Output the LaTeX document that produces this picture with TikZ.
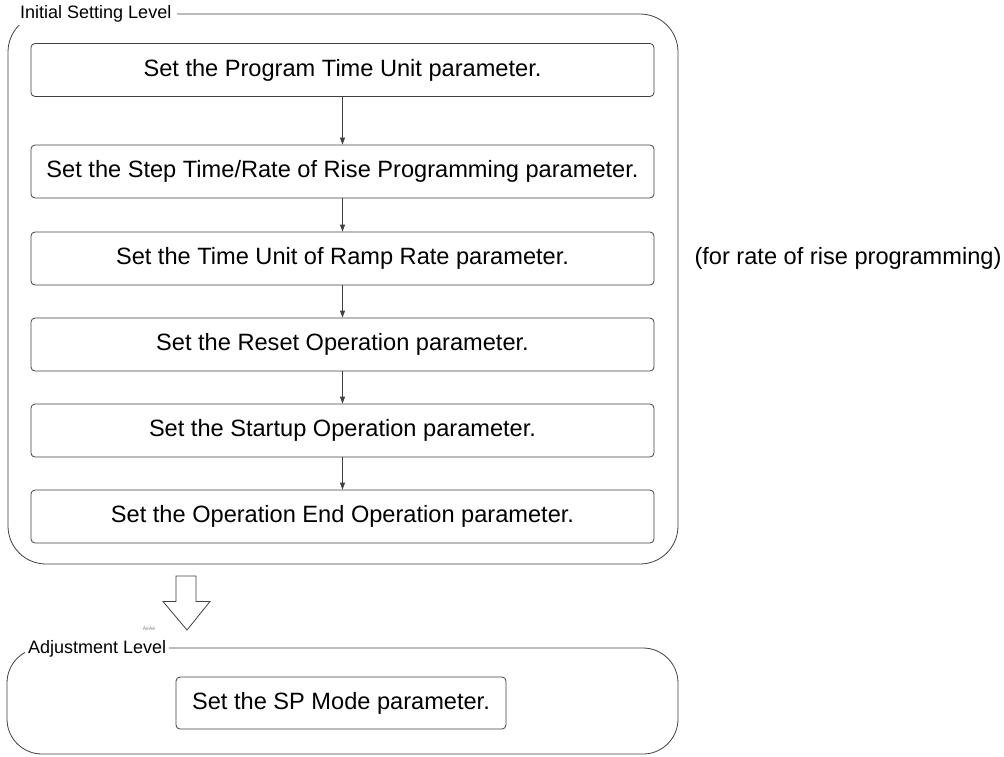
\documentclass[tikz,border=0pt]{standalone}
\usepackage{fontspec}
\setmainfont{Liberation Sans}
\usetikzlibrary{arrows.meta}
\definecolor{linegray}{HTML}{404040}
\begin{document}
\begin{tikzpicture}[x=1pt,y=-1pt,
  stepbox/.style={draw=linegray, line width=0.8pt, rounded corners=4pt,
    minimum width=623pt, minimum height=53pt, inner sep=0pt,
    font=\fontsize{23.6}{28}\selectfont},
  frame/.style={draw=linegray, line width=0.8pt},
  levellabel/.style={fill=white, anchor=west, inner xsep=6pt, inner ysep=0pt,
    minimum height=22pt, font=\fontsize{18}{21}\selectfont},
  flow/.style={draw=linegray, line width=0.8pt, -{Triangle[length=7pt,width=5pt]}},
  note/.style={font=\fontsize{23.6}{28}\selectfont}
]
\useasboundingbox (0,0) rectangle (1004,756);

% Initial Setting Level frame
\draw[frame, rounded corners=38pt] (8,14) rectangle (678,564);
\node[levellabel] (initlabel) at (14,14) {Initial Setting Level};

\node[stepbox] (b1) at (342.5,70)    {Set the Program Time Unit parameter.};
\node[stepbox] (b2) at (342.5,171.5) {Set the Step Time/Rate of Rise Programming parameter.};
\node[stepbox] (b3) at (342.5,258.5) {Set the Time Unit of Ramp Rate parameter.};
\node[stepbox] (b4) at (342.5,344.5) {Set the Reset Operation parameter.};
\node[stepbox] (b5) at (342.5,430.5) {Set the Startup Operation parameter.};
\node[stepbox] (b6) at (342.5,516.5) {Set the Operation End Operation parameter.};

\draw[flow] (b1) -- (b2);
\draw[flow] (b2) -- (b3);
\draw[flow] (b3) -- (b4);
\draw[flow] (b4) -- (b5);
\draw[flow] (b5) -- (b6);

\node[note, anchor=west] (ratenote) at (691,258.5) {(for rate of rise programming)};

% hollow block arrow
\draw[linegray, line width=0.8pt, fill=white]
  (176,576) -- (196,576) -- (196,601.5) -- (210,601.5) -- (187,630)
  -- (163,601.5) -- (176,601.5) -- cycle;
\node[font=\fontsize{5}{6}\selectfont, text=gray, inner sep=0pt] (tiny) at (149,628) {ÀëÀë};

% Adjustment Level frame
\draw[frame, rounded corners=35pt] (7,648) rectangle (678,754);
\node[levellabel, inner xsep=3pt] (adjlabel) at (25,649) {Adjustment Level};

\node[stepbox, minimum width=330pt, minimum height=52pt] (sp) at (341,703) {Set the SP Mode parameter.};
\end{tikzpicture}
\end{document}
